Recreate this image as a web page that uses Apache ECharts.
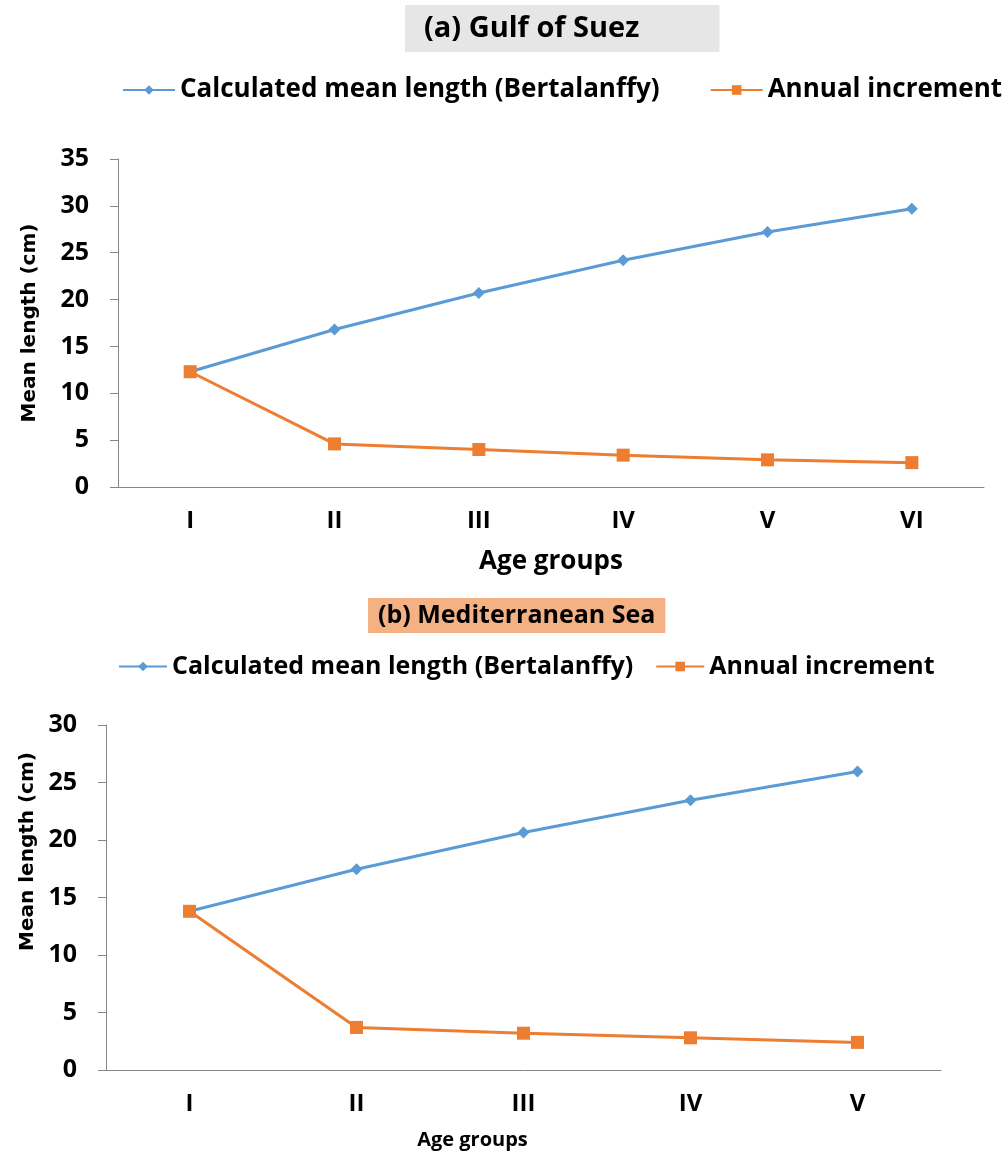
<!DOCTYPE html>
<html>
<head>
<meta charset="utf-8">
<script src="https://cdn.jsdelivr.net/npm/echarts@6/dist/echarts.min.js"></script>
<style>
  html, body { margin: 0; padding: 0; background: #fff; }
  #chart { width: 1008px; height: 1156px; }
</style>
</head>
<body>
<div id="chart"></div>
<script>
// (a) Gulf of Suez
const agesA = ['I', 'II', 'III', 'IV', 'V', 'VI']
const meanLenA = [12.3, 16.8, 20.7, 24.2, 27.2, 29.7]
const incA = [12.3, 4.6, 4.0, 3.4, 2.9, 2.6]
// (b) Mediterranean Sea
const agesB = ['I', 'II', 'III', 'IV', 'V']
const meanLenB = [13.8, 17.45, 20.65, 23.45, 25.95]
const incB = [13.8, 3.7, 3.2, 2.8, 2.4]

const NAME_LEN = 'Calculated mean length (Bertalanffy)'
const NAME_INC = 'Annual increment'
const BLUE = '#5B9BD5'
const ORANGE = '#ED7D31'
const FONT = 'Open Sans'

const chart = echarts.init(document.getElementById('chart'))

const xAxisBase = (data, gridIndex, nameGap, fs, pad) => ({
  type: 'category',
  gridIndex,
  data,
  boundaryGap: true,
  name: 'Age groups',
  nameLocation: 'middle',
  nameGap,
  nameTextStyle: { color: '#000', fontFamily: FONT, fontWeight: 'bold', fontSize: fs, padding: pad },
  axisLine: { lineStyle: { color: '#868686', width: 1 } },
  axisTick: { show: false },
  axisLabel: { color: '#000', fontFamily: FONT, fontWeight: 'bold', fontSize: 24, margin: 22 },
})

const yAxisBase = (gridIndex, max, nameGap, pad) => ({
  type: 'value',
  gridIndex,
  min: 0,
  max,
  interval: 5,
  name: 'Mean length (cm)',
  nameLocation: 'middle',
  nameGap,
  nameTextStyle: { color: '#000', fontFamily: 'DejaVu Sans', fontWeight: 'bold', fontSize: 20, padding: pad },
  axisLine: { show: true, lineStyle: { color: '#868686', width: 1 } },
  axisTick: { show: true, length: 8, lineStyle: { color: '#868686' } },
  splitLine: { show: false },
  axisLabel: { color: '#000', fontFamily: FONT, fontWeight: 'bold', fontSize: 25, margin: 29 },
})

const lenSeries = (data, idx) => ({
  name: NAME_LEN, type: 'line', xAxisIndex: idx, yAxisIndex: idx, data,
  symbol: 'diamond', symbolSize: 12,
  lineStyle: { color: BLUE, width: 3 }, itemStyle: { color: BLUE },
})
const incSeries = (data, idx) => ({
  name: NAME_INC, type: 'line', xAxisIndex: idx, yAxisIndex: idx, data,
  symbol: 'rect', symbolSize: 13,
  lineStyle: { color: ORANGE, width: 3 }, itemStyle: { color: ORANGE },
})

const legendText = { color: '#000', fontFamily: FONT, fontWeight: 'bold' }

chart.setOption({
  animation: false,
  title: [
    {
      text: '(a) Gulf of Suez',
      left: 405, top: 5,
      backgroundColor: '#E7E6E6',
      padding: [9, 80, 9, 19],
      textStyle: { color: '#000', fontFamily: FONT, fontWeight: 'bold', fontSize: 29 },
    },
    {
      text: '(b) Mediterranean Sea',
      left: 368, top: 598,
      backgroundColor: '#F4B183',
      padding: [5, 10],
      textStyle: { color: '#000', fontFamily: FONT, fontWeight: 'bold', fontSize: 25 },
    },
  ],
  legend: [
    {
      data: [NAME_LEN, NAME_INC],
      left: 122, top: 77, width: 950, padding: 0,
      itemWidth: 52, itemHeight: 12, itemGap: 50,
      textStyle: { ...legendText, fontSize: 26 },
    },
    {
      data: [NAME_LEN, NAME_INC],
      left: 118, top: 654, width: 950, padding: 0,
      itemWidth: 48, itemHeight: 12, itemGap: 22,
      textStyle: { ...legendText, fontSize: 25 },
    },
  ],
  grid: [
    { left: 118, right: 24, top: 159, height: 328 },
    { left: 106, right: 67, top: 725, height: 345 },
  ],
  xAxis: [xAxisBase(agesA, 0, 62, 26, [0, 0, 0, 0]), xAxisBase(agesB, 1, 60, 20, [0, 102, 0, 0])],
  yAxis: [yAxisBase(0, 35, 78, [0, 0, 0, 0]), yAxisBase(1, 30, 68, [0, 0, 0, 92])],
  series: [
    lenSeries(meanLenA, 0), incSeries(incA, 0),
    lenSeries(meanLenB, 1), incSeries(incB, 1),
  ],
})
</script>
</body>
</html>
